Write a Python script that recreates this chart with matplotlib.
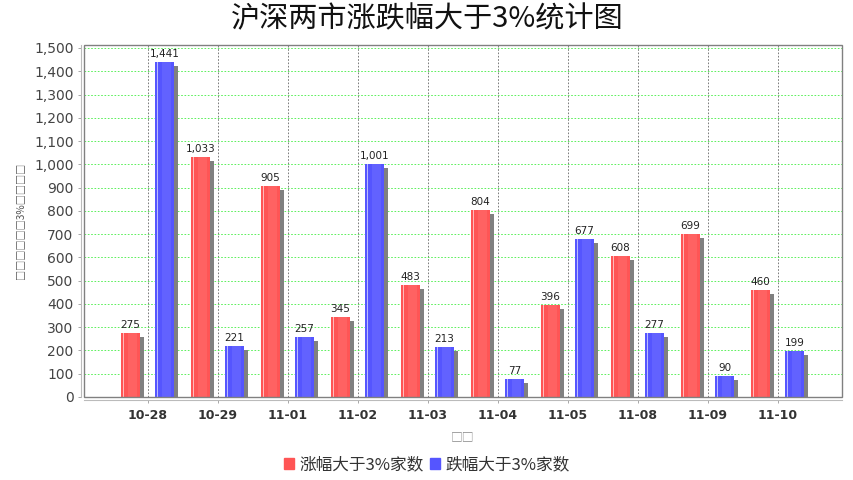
import matplotlib
matplotlib.use('Agg')
import matplotlib.pyplot as plt
import matplotlib.patches as mpatches
import numpy as np

plt.rcParams['font.family'] = ['Noto Sans CJK SC', 'DejaVu Sans']

# data
dates = ['10-28', '10-29', '11-01', '11-02', '11-03', '11-04', '11-05', '11-08', '11-09', '11-10']
rise = [275, 1033, 905, 345, 483, 804, 396, 608, 699, 460]
fall = [1441, 221, 257, 1001, 213, 77, 677, 277, 90, 199]
series_names = ['涨幅大于3%家数', '跌幅大于3%家数']
title = '沪深两市涨跌幅大于3%统计图'
x_label = '□□'
y_label = '□□□□□□3%□□□□'

C_RED = '#FF5555'
C_BLUE = '#5555FF'
C_SHADOW = '#808080'

W, H = 854, 480
fig = plt.figure(figsize=(W / 100, H / 100), dpi=100)
fig.patch.set_facecolor('white')

left, right, top, bottom = 84, 842, 45, 397
ax = fig.add_axes([left / W, 1 - bottom / H, (right - left) / W, (bottom - top) / H])

x = np.arange(len(dates))
px_x = 1 / 70.0                    # category spacing is 70 px
px_y = 1500 / 349.0                # 0 -> 1500 spans 349 px
bw = 19 * px_x
off = 17 * px_x

for vals, color, sign in [(rise, C_RED, -1), (fall, C_BLUE, 1)]:
    vals = np.array(vals)
    xc = x + sign * off
    # shadow
    ax.bar(xc + 4 * px_x, vals - 4 * px_y, bw, color=C_SHADOW, linewidth=0, zorder=2)
    # main bar
    ax.bar(xc, vals, bw, color=color, linewidth=0, zorder=3)
    # highlight stripe
    ax.bar(xc - bw / 2 + 2.5 * px_x, vals, 1.5 * px_x, color='white', alpha=0.6,
           linewidth=0, zorder=4)
    ax.bar(xc + bw * 0.1, vals, bw * 0.5, color='white', alpha=0.08, linewidth=0, zorder=4)
    for xi, v in zip(xc, vals):
        ax.text(xi, v + 3 * px_y, f'{v:,}', ha='center', va='bottom', fontsize=7.5,
                color='#222222', family=['DejaVu Sans'], zorder=5)

ax.set_xlim(-63.5 * px_x, 9 + 64.5 * px_x)
ax.set_ylim(0, 1500 + 3 * px_y)
ax.set_yticks(np.arange(0, 1501, 100))
ax.set_yticklabels([f'{v:,}' for v in range(0, 1501, 100)])
ax.set_xticks(x)
ax.set_xticklabels(dates)

# grid
ax.yaxis.grid(True, color='#44EE44', linewidth=0.6, linestyle=(0, (2, 2)), zorder=1)
ax.xaxis.grid(True, color='#666666', linewidth=0.6, linestyle=(0, (2, 2)), zorder=1)
ax.set_axisbelow(True)

# axis lines offset from the plot border
for s in ['top', 'right']:
    ax.spines[s].set_visible(False)
for s in ['left', 'bottom']:
    ax.spines[s].set_position(('outward', 2.5))
    ax.spines[s].set_color('#BBBBBB')
    ax.spines[s].set_linewidth(0.8)
ax.tick_params(axis='y', length=2, width=0.6, color='#999999', pad=3)
ax.tick_params(axis='x', length=2, width=0.6, color='#999999', pad=4)

for lab in ax.get_yticklabels():
    lab.set_fontfamily('DejaVu Sans')
    lab.set_fontsize(10)
    lab.set_color('#444444')
for lab in ax.get_xticklabels():
    lab.set_fontfamily('DejaVu Sans')
    lab.set_fontsize(9)
    lab.set_fontweight('bold')
    lab.set_color('#333333')

border = mpatches.Rectangle((0, 0), 1, 1, transform=ax.transAxes, fill=False,
                            edgecolor='#808080', linewidth=1.0, zorder=6, clip_on=False)
ax.add_patch(border)

ax.set_xlabel(x_label, fontsize=8.5, color='#888888', labelpad=6)
fig.text(20 / W, 1 - 221 / H, y_label, rotation=90, ha='center', va='center',
         fontsize=7.3, color='#555555')

fig.text(0.5, 1 - 19 / H, title, ha='center', va='center', fontsize=21, color='#111111',
         style='italic')

handles = [mpatches.Patch(color=C_RED, label=series_names[0]),
           mpatches.Patch(color=C_BLUE, label=series_names[1])]
leg = fig.legend(handles=handles, loc='center', bbox_to_anchor=(0.5, 1 - 465 / H), ncol=2,
                 frameon=False, fontsize=12, handlelength=0.6, handleheight=0.6,
                 handletextpad=0.3, columnspacing=0.4, labelcolor='#333333')

fig.savefig('out.png', dpi=100, facecolor='white')
